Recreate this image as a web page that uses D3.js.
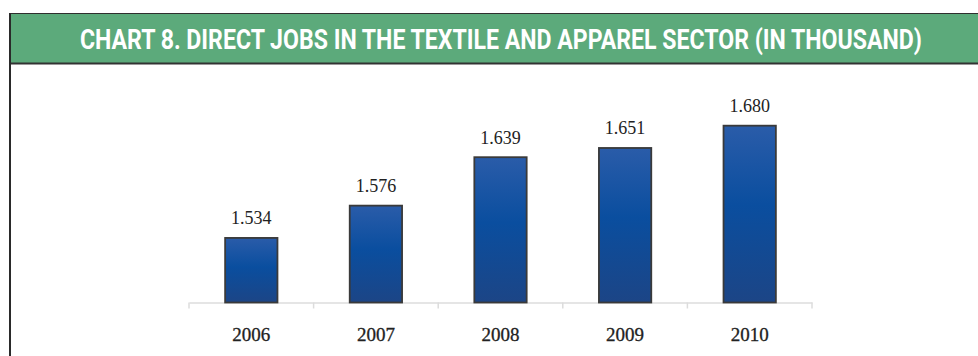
<!DOCTYPE html>
<html>
<head>
<meta charset="utf-8">
<script src="https://cdn.jsdelivr.net/npm/d3@7"></script>
<style>
  html, body { margin: 0; padding: 0; background: #fff; }
  svg { display: block; }
</style>
</head>
<body>
<svg id="chart" width="978" height="356"></svg>
<script>
// Direct jobs in the textile and apparel sector, thousands
const years = ["2006", "2007", "2008", "2009", "2010"];
const jobs = [1.534, 1.576, 1.639, 1.651, 1.680];
const valueLabels = ["1.534", "1.576", "1.639", "1.651", "1.680"];
const titleText = "CHART 8. DIRECT JOBS IN THE TEXTILE AND APPAREL SECTOR (IN THOUSAND)";

const svg = d3.select("#chart");
const W = 978, H = 356;

// Panel: green header band and left rule
svg.append("rect").attr("x", 9).attr("y", 13).attr("width", W - 9).attr("height", 51)
  .attr("fill", "#5caa7b");
svg.append("line").attr("x1", 9).attr("x2", W).attr("y1", 13.5).attr("y2", 13.5)
  .attr("stroke", "#2f2f2f").attr("stroke-width", 1.2);
svg.append("line").attr("x1", 9).attr("x2", W).attr("y1", 63.5).attr("y2", 63.5)
  .attr("stroke", "#333").attr("stroke-width", 2.2);
svg.append("line").attr("x1", 10).attr("x2", 10).attr("y1", 13).attr("y2", H)
  .attr("stroke", "#2a2a2a").attr("stroke-width", 2);

// Condensed-looking title: fit the width, then stretch vertically
const title = svg.append("text")
  .attr("x", 0).attr("y", 0)
  .attr("font-family", "Roboto, 'DejaVu Sans', sans-serif")
  .attr("font-weight", 700).attr("font-size", 22)
  .attr("fill", "#fff")
  .text(titleText);
const tw = title.node().getComputedTextLength();
const sx = 842 / tw;
title.attr("transform", `translate(80,48.5) scale(${sx},${19 / (22 * 0.711)})`);

// Scales
const x = d3.scaleBand().domain(years).range([189, 812]).paddingInner(0).paddingOuter(0);
const y = d3.scaleLinear().domain([1.45, 1.70]).range([302.5, 110.3]);
const barW = x.bandwidth() * 0.42;

// Bar gradient
const defs = svg.append("defs");
const grad = defs.append("linearGradient").attr("id", "barGrad")
  .attr("x1", 0).attr("y1", 0).attr("x2", 0).attr("y2", 1);
grad.append("stop").attr("offset", "0%").attr("stop-color", "#2a5ca9");
grad.append("stop").attr("offset", "45%").attr("stop-color", "#0a4e9f");
grad.append("stop").attr("offset", "100%").attr("stop-color", "#1c4586");

// Axis line with ticks at band edges
const axis = d3.axisBottom(x).tickSize(0).tickFormat("");
const gx = svg.append("g").attr("transform", `translate(0,${y(1.45)})`).call(axis);
gx.select(".domain").attr("stroke", "#dcdcdc").attr("stroke-width", 1.5);
const edges = years.map(d => x(d)).concat([x.range()[1]]);
gx.selectAll(".edge").data(edges).enter().append("line")
  .attr("x1", d => d).attr("x2", d => d).attr("y1", 0).attr("y2", 6)
  .attr("stroke", "#dcdcdc").attr("stroke-width", 1.5);

// Bars
const data = years.map((yr, i) => ({ yr, v: jobs[i], label: valueLabels[i] }));
svg.selectAll(".bar").data(data).enter().append("rect")
  .attr("class", "bar")
  .attr("x", d => x(d.yr) + x.bandwidth() / 2 - barW / 2)
  .attr("y", d => y(d.v))
  .attr("width", barW)
  .attr("height", d => y(1.45) - y(d.v))
  .attr("fill", "url(#barGrad)")
  .attr("stroke", "#3a3a3a").attr("stroke-width", 1.8);

// Value labels
svg.selectAll(".val").data(data).enter().append("text")
  .attr("x", d => x(d.yr) + x.bandwidth() / 2)
  .attr("y", d => y(d.v) - 13.5)
  .attr("text-anchor", "middle")
  .attr("font-family", "'Liberation Serif', 'DejaVu Serif', serif")
  .attr("font-size", 18).attr("fill", "#222")
  .text(d => d.label);

// Year labels
svg.selectAll(".yr").data(years).enter().append("text")
  .attr("x", d => x(d) + x.bandwidth() / 2)
  .attr("y", 341)
  .attr("text-anchor", "middle")
  .attr("font-family", "'Liberation Serif', 'DejaVu Serif', serif")
  .attr("font-size", 19).attr("fill", "#222")
  .attr("stroke", "#222").attr("stroke-width", 0.3)
  .text(d => d);
</script>
</body>
</html>
